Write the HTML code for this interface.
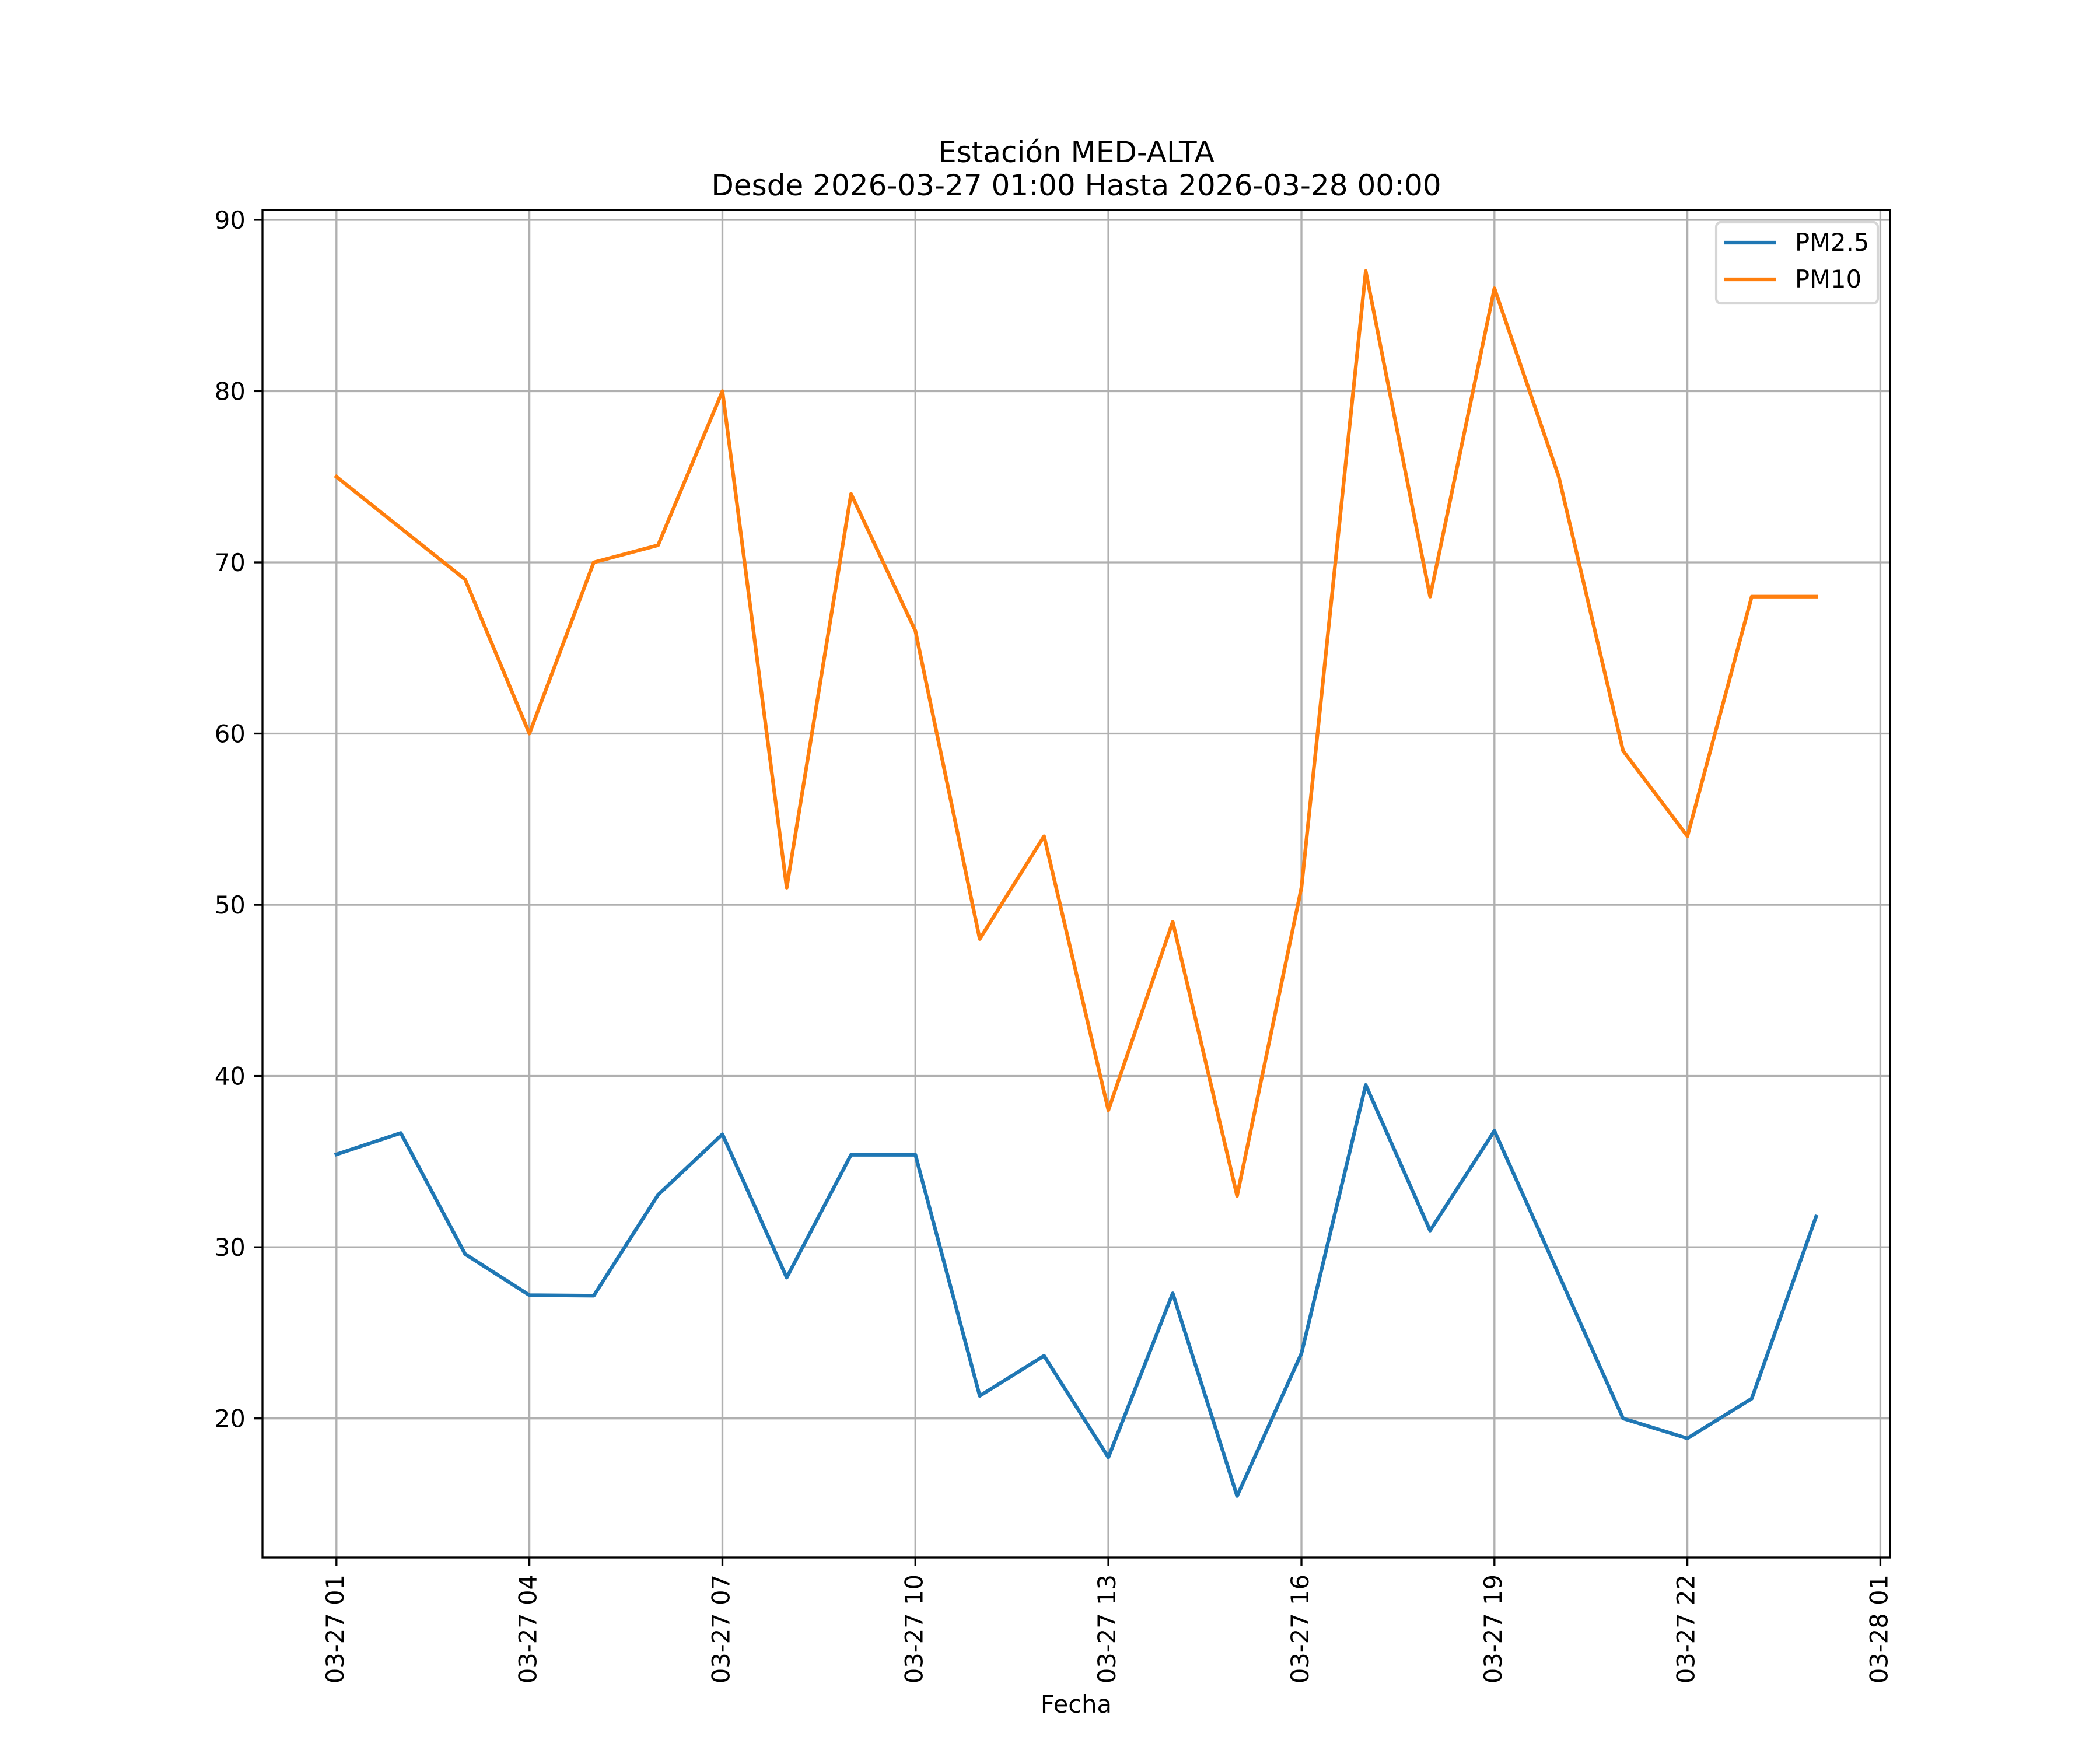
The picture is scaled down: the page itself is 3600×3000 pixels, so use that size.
<!DOCTYPE html>
<html><head><meta charset="utf-8"><style>html,body{margin:0;padding:0;background:#fff}svg{display:block}</style></head>
<body>
<svg xmlns="http://www.w3.org/2000/svg" width="3600" height="3000" viewBox="0 0 3600 3000" font-family="'DejaVu Sans','Liberation Sans',sans-serif">
<rect x="0" y="0" width="3600" height="3000" fill="#fff"/>
<!-- grid -->
<g stroke="#b0b0b0" stroke-width="3.33" fill="none">
<line x1="576.8" y1="360" x2="576.8" y2="2670"/>
<line x1="907.6" y1="360" x2="907.6" y2="2670"/>
<line x1="1238.5" y1="360" x2="1238.5" y2="2670"/>
<line x1="1569.3" y1="360" x2="1569.3" y2="2670"/>
<line x1="1900.1" y1="360" x2="1900.1" y2="2670"/>
<line x1="2231.0" y1="360" x2="2231.0" y2="2670"/>
<line x1="2561.8" y1="360" x2="2561.8" y2="2670"/>
<line x1="2892.6" y1="360" x2="2892.6" y2="2670"/>
<line x1="3223.4" y1="360" x2="3223.4" y2="2670"/>
<line x1="450" y1="376.9" x2="3240" y2="376.9"/>
<line x1="450" y1="670.4" x2="3240" y2="670.4"/>
<line x1="450" y1="964.0" x2="3240" y2="964.0"/>
<line x1="450" y1="1257.5" x2="3240" y2="1257.5"/>
<line x1="450" y1="1551.1" x2="3240" y2="1551.1"/>
<line x1="450" y1="1844.6" x2="3240" y2="1844.6"/>
<line x1="450" y1="2138.2" x2="3240" y2="2138.2"/>
<line x1="450" y1="2431.7" x2="3240" y2="2431.7"/>
</g>
<!-- series -->
<g fill="none" stroke-width="6.25" stroke-linejoin="round" stroke-linecap="square">
<polyline stroke="#1f77b4" points="576.8,1979.1 687.1,1942.4 797.4,2149.9 907.6,2220.4 1017.9,2221.3 1128.2,2048.4 1238.5,1944.5 1348.7,2190.2 1459.0,1979.7 1569.3,1979.7 1679.6,2393.0 1789.9,2324.3 1900.1,2498.4 2010.4,2217.2 2120.7,2564.7 2231.0,2320.2 2341.2,1860.0 2451.5,2109.7 2561.8,1938.6 2672.1,2185.2 2782.3,2431.7 2892.6,2465.8 3002.9,2397.7 3113.2,2085.7"/>
<polyline stroke="#ff7f0e" points="576.8,817.2 687.1,905.3 797.4,993.3 907.6,1257.5 1017.9,964.0 1128.2,934.6 1238.5,670.4 1348.7,1521.7 1459.0,846.6 1569.3,1081.4 1679.6,1609.8 1789.9,1433.6 1900.1,1903.3 2010.4,1580.4 2120.7,2050.1 2231.0,1521.7 2341.2,464.9 2451.5,1022.7 2561.8,494.3 2672.1,817.2 2782.3,1286.9 2892.6,1433.6 3002.9,1022.7 3113.2,1022.7"/>
</g>
<!-- spines -->
<rect x="450" y="360" width="2790" height="2310" fill="none" stroke="#000" stroke-width="3.33" stroke-linejoin="miter"/>
<!-- ticks -->
<g stroke="#000" stroke-width="3.33">
<line x1="576.8" y1="2670" x2="576.8" y2="2684.6"/>
<line x1="907.6" y1="2670" x2="907.6" y2="2684.6"/>
<line x1="1238.5" y1="2670" x2="1238.5" y2="2684.6"/>
<line x1="1569.3" y1="2670" x2="1569.3" y2="2684.6"/>
<line x1="1900.1" y1="2670" x2="1900.1" y2="2684.6"/>
<line x1="2231.0" y1="2670" x2="2231.0" y2="2684.6"/>
<line x1="2561.8" y1="2670" x2="2561.8" y2="2684.6"/>
<line x1="2892.6" y1="2670" x2="2892.6" y2="2684.6"/>
<line x1="3223.4" y1="2670" x2="3223.4" y2="2684.6"/>
<line x1="435.4" y1="376.9" x2="450" y2="376.9"/>
<line x1="435.4" y1="670.4" x2="450" y2="670.4"/>
<line x1="435.4" y1="964.0" x2="450" y2="964.0"/>
<line x1="435.4" y1="1257.5" x2="450" y2="1257.5"/>
<line x1="435.4" y1="1551.1" x2="450" y2="1551.1"/>
<line x1="435.4" y1="1844.6" x2="450" y2="1844.6"/>
<line x1="435.4" y1="2138.2" x2="450" y2="2138.2"/>
<line x1="435.4" y1="2431.7" x2="450" y2="2431.7"/>
</g>
<!-- y tick labels -->
<g font-size="41.67" fill="#000" text-anchor="end">
<text x="420.8" y="392">90</text>
<text x="420.8" y="685.5">80</text>
<text x="420.8" y="979">70</text>
<text x="420.8" y="1272.5">60</text>
<text x="420.8" y="1566">50</text>
<text x="420.8" y="1859.5">40</text>
<text x="420.8" y="2153">30</text>
<text x="420.8" y="2446.5">20</text>
</g>
<!-- x tick labels -->
<g font-size="41.67" fill="#000" text-anchor="end">
<text transform="translate(588.8,2699) rotate(-90)">03-27 01</text>
<text transform="translate(919.6,2699) rotate(-90)">03-27 04</text>
<text transform="translate(1250.5,2699) rotate(-90)">03-27 07</text>
<text transform="translate(1581.3,2699) rotate(-90)">03-27 10</text>
<text transform="translate(1912.1,2699) rotate(-90)">03-27 13</text>
<text transform="translate(2243.0,2699) rotate(-90)">03-27 16</text>
<text transform="translate(2573.8,2699) rotate(-90)">03-27 19</text>
<text transform="translate(2904.6,2699) rotate(-90)">03-27 22</text>
<text transform="translate(3235.4,2699) rotate(-90)">03-28 01</text>
</g>
<!-- x label -->
<text x="1845" y="2936" font-size="41.67" text-anchor="middle" fill="#000">Fecha</text>
<!-- title -->
<g font-size="50" text-anchor="middle" fill="#000">
<text x="1845" y="278">Estación MED-ALTA</text>
<text x="1845" y="335">Desde 2026-03-27 01:00 Hasta 2026-03-28 00:00</text>
</g>
<!-- legend -->
<rect x="2942" y="381" width="277" height="139" rx="8" ry="8" fill="#fff" fill-opacity="0.8" stroke="#d6d6d6" stroke-width="4.17"/>
<line x1="2956" y1="416" x2="3045" y2="416" stroke="#1f77b4" stroke-width="6.25"/>
<line x1="2956" y1="479" x2="3045" y2="479" stroke="#ff7f0e" stroke-width="6.25"/>
<g font-size="41.67" fill="#000">
<text x="3077" y="430">PM2.5</text>
<text x="3077" y="493">PM10</text>
</g>
</svg>
</body></html>
